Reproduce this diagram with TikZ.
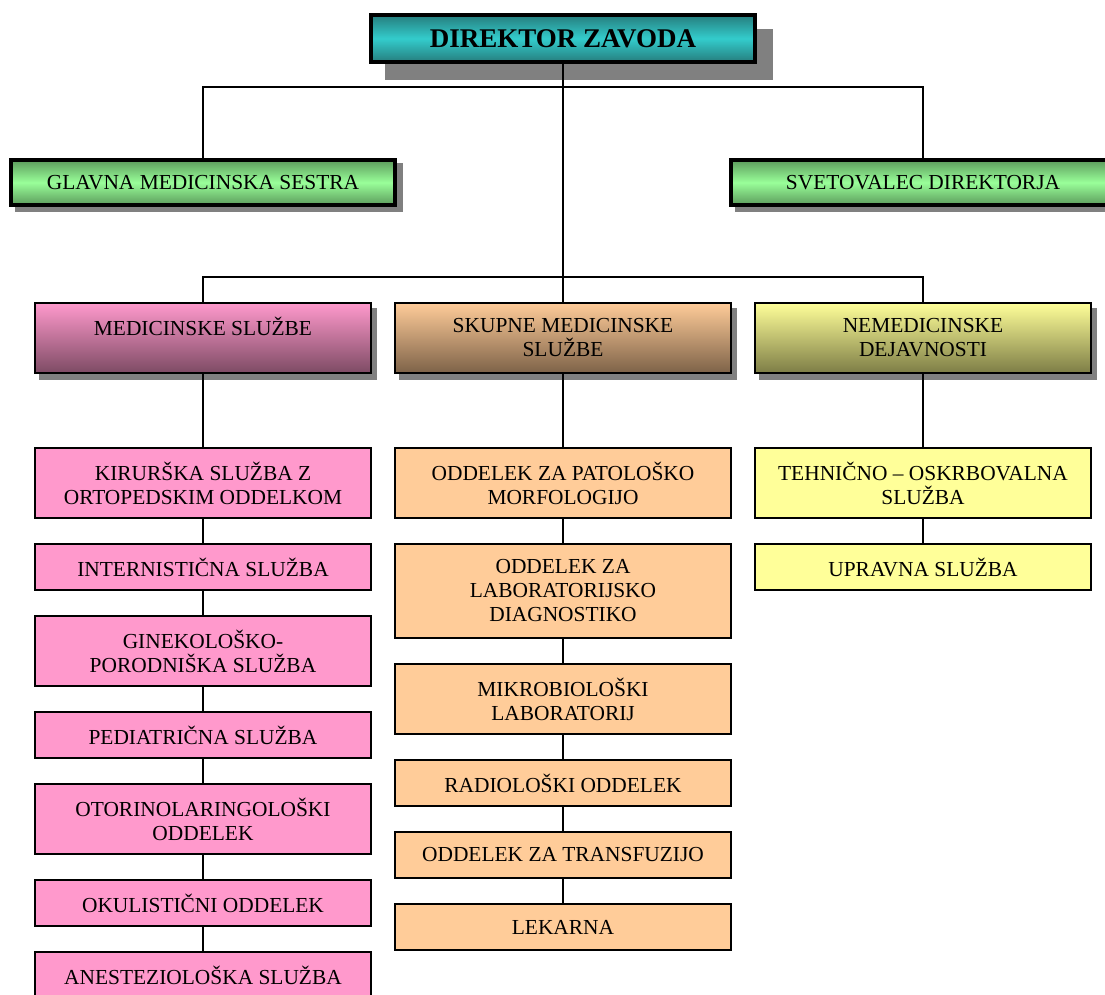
\documentclass[tikz,border=0pt]{standalone}
\usepackage{fontspec}
\setmainfont{Liberation Serif}
\pgfdeclarelayer{shadowlayer}
\pgfdeclarelayer{linelayer}
\pgfsetlayers{shadowlayer,linelayer,main}
\definecolor{tealmid}{RGB}{51,204,204}
\definecolor{tealedge}{RGB}{38,125,125}
\definecolor{greenmid}{RGB}{153,255,153}
\definecolor{greenedge}{RGB}{92,155,92}
\definecolor{pinktop}{RGB}{255,153,204}
\definecolor{pinkbot}{RGB}{125,75,100}
\definecolor{oratop}{RGB}{255,204,153}
\definecolor{orabot}{RGB}{125,98,72}
\definecolor{yeltop}{RGB}{255,255,153}
\definecolor{yelbot}{RGB}{125,125,70}
\definecolor{shadowgray}{RGB}{128,128,128}
\tikzset{
  base/.style={rectangle, draw=black, inner sep=0pt, align=center,
    font=\fontsize{21.4}{24}\selectfont},
  topbox/.style={base, line width=4pt, minimum width=384pt, minimum height=47pt,
    top color=tealedge, bottom color=tealedge, middle color=tealmid,
    font=\fontsize{27}{30}\selectfont\bfseries},
  greenbox/.style={base, line width=4pt, minimum width=384pt, minimum height=45pt,
    top color=greenedge, bottom color=greenedge, middle color=greenmid},
  lvltwo/.style={base, line width=2pt, minimum width=336pt, minimum height=70pt},
  lvlthree/.style={base, line width=1.8pt, minimum width=336pt},
  pinkfill/.style={fill=pinktop},
  orafill/.style={fill=oratop},
  yelfill/.style={fill=yeltop},
  conn/.style={draw=black, line width=2pt},
  shadowfill/.style={fill=shadowgray, draw=none}
}
\begin{document}
\begin{tikzpicture}[x=1pt,y=-1pt]
\useasboundingbox (0,0) rectangle (1105,994);
% top
\node[topbox] (dir) at (563,38.5) {\raisebox{-3pt}{DIREKTOR ZAVODA}};
\node[greenbox] (g1) at (203,182.5) {GLAVNA MEDICINSKA SESTRA};
\node[greenbox] (g2) at (923,182.5) {SVETOVALEC DIREKTORJA};
% level two
\node[lvltwo, top color=pinktop, bottom color=pinkbot] (m1) at (203,338) {MEDICINSKE SLUŽBE\\\mbox{}};
\node[lvltwo, top color=oratop, bottom color=orabot] (m2) at (563,338) {SKUPNE MEDICINSKE\\SLUŽBE};
\node[lvltwo, top color=yeltop, bottom color=yelbot] (m3) at (923,338) {NEMEDICINSKE\\DEJAVNOSTI};
% column 1
\node[lvlthree, pinkfill, minimum height=70pt] (a1) at (203,483) {KIRURŠKA SLUŽBA Z\\ORTOPEDSKIM ODDELKOM};
\node[lvlthree, pinkfill, minimum height=46pt] (a2) at (203,567) {INTERNISTIČNA SLUŽBA};
\node[lvlthree, pinkfill, minimum height=70pt] (a3) at (203,651) {GINEKOLOŠKO-\\PORODNIŠKA SLUŽBA};
\node[lvlthree, pinkfill, minimum height=46pt] (a4) at (203,735) {PEDIATRIČNA SLUŽBA};
\node[lvlthree, pinkfill, minimum height=70pt] (a5) at (203,819) {OTORINOLARINGOLOŠKI\\ODDELEK};
\node[lvlthree, pinkfill, minimum height=46pt] (a6) at (203,903) {OKULISTIČNI ODDELEK};
\node[lvlthree, pinkfill, minimum height=46pt] (a7) at (203,975) {ANESTEZIOLOŠKA SLUŽBA};
% column 2
\node[lvlthree, orafill, minimum height=70pt] (b1) at (563,483) {ODDELEK ZA PATOLOŠKO\\MORFOLOGIJO};
\node[lvlthree, orafill, minimum height=94pt] (b2) at (563,591) {ODDELEK ZA\\LABORATORIJSKO\\DIAGNOSTIKO};
\node[lvlthree, orafill, minimum height=70pt] (b3) at (563,699) {MIKROBIOLOŠKI\\LABORATORIJ};
\node[lvlthree, orafill, minimum height=46pt] (b4) at (563,783) {RADIOLOŠKI ODDELEK};
\node[lvlthree, orafill, minimum height=46pt] (b5) at (563,855) {ODDELEK ZA TRANSFUZIJO};
\node[lvlthree, orafill, minimum height=46pt] (b6) at (563,927) {LEKARNA};
% column 3
\node[lvlthree, yelfill, minimum height=70pt] (c1) at (923,483) {TEHNIČNO – OSKRBOVALNA\\SLUŽBA};
\node[lvlthree, yelfill, minimum height=46pt] (c2) at (923,567) {UPRAVNA SLUŽBA};
% junctions
\coordinate (j1) at (563,87);
\coordinate (j2) at (563,277);
\begin{pgfonlayer}{shadowlayer}
  \fill[shadowfill] ([shift={(16,16)}]dir.north west) rectangle ([shift={(16,16)}]dir.south east);
  \foreach \n in {g1,g2}
    \fill[shadowfill] ([shift={(6,5)}]\n.north west) rectangle ([shift={(6,5)}]\n.south east);
  \foreach \n in {m1,m2,m3}
    \fill[shadowfill] ([shift={(5,6)}]\n.north west) rectangle ([shift={(5,6)}]\n.south east);
\end{pgfonlayer}
\begin{pgfonlayer}{linelayer}
  \draw[conn] (dir.south) -- (j2);
  \draw[conn] (j1) -| (g1.north);
  \draw[conn] (j1) -| (g2.north);
  \draw[conn] (j2) -| (m1.north);
  \draw[conn] (j2) -- (m2.north);
  \draw[conn] (j2) -| (m3.north);
  \draw[conn] (m1.south) -- (a1.north);
  \draw[conn] (a1.south) -- (a2.north);
  \draw[conn] (a2.south) -- (a3.north);
  \draw[conn] (a3.south) -- (a4.north);
  \draw[conn] (a4.south) -- (a5.north);
  \draw[conn] (a5.south) -- (a6.north);
  \draw[conn] (a6.south) -- (a7.north);
  \draw[conn] (m2.south) -- (b1.north);
  \draw[conn] (b1.south) -- (b2.north);
  \draw[conn] (b2.south) -- (b3.north);
  \draw[conn] (b3.south) -- (b4.north);
  \draw[conn] (b4.south) -- (b5.north);
  \draw[conn] (b5.south) -- (b6.north);
  \draw[conn] (m3.south) -- (c1.north);
  \draw[conn] (c1.south) -- (c2.north);
\end{pgfonlayer}
\end{tikzpicture}
\end{document}
